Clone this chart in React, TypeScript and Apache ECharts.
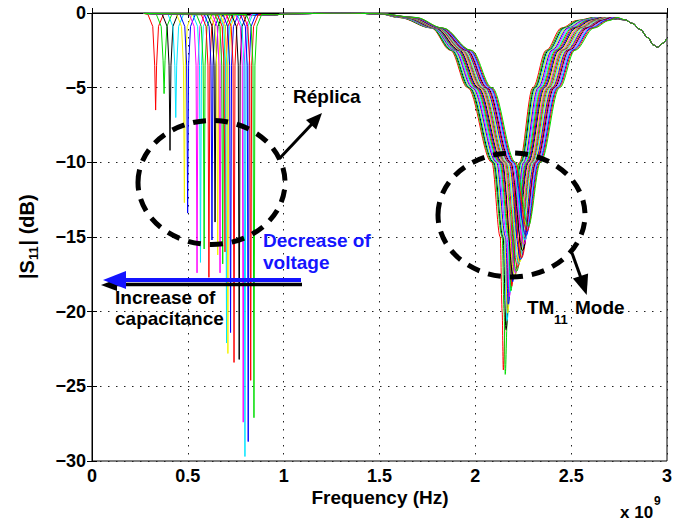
import React, { useEffect, useRef } from 'react';
import * as echarts from 'echarts';

const xTickLabels = ['0', '0.5', '1', '1.5', '2', '2.5', '3'];
const yTickLabels = ['−30', '−25', '−20', '−15', '−10', '−5', '0'];

const curveColors = [
  '#ff0000', '#00dd00', '#000000', '#00e5ff', '#f2f200', '#0000ff', '#ff00ff',
  '#00e5ff', '#00dd00', '#ff0000', '#0000ff', '#000000', '#f2f200', '#ff00ff',
  '#00dd00', '#ff0000', '#00e5ff', '#f2f200', '#0000ff', '#ff0000', '#000000',
  '#ff00ff', '#00e5ff', '#0000ff', '#ff0000', '#00dd00',
];

// Réplica resonances (GHz, dB), one list per curve
const lowDipPoints = [
  [[0.292, -0.1], [0.317, -0.9], [0.327, -3.5], [0.332, -6.5], [0.337, -3.5], [0.347, -0.9], [0.372, -0.1]],
  [[0.336, -0.1], [0.361, -0.9], [0.371, -3.2], [0.376, -5.4], [0.381, -3.2], [0.391, -0.9], [0.416, -0.1]],
  [[0.367, -0.1], [0.392, -0.9], [0.402, -3.5], [0.407, -9.2], [0.412, -3.5], [0.422, -0.9], [0.447, -0.1]],
  [[0.397, -0.1], [0.422, -0.9], [0.432, -3.5], [0.437, -7.0], [0.442, -3.5], [0.452, -0.9], [0.477, -0.1]],
  [[0.442, -0.1], [0.467, -0.9], [0.477, -3.5], [0.482, -12.7], [0.487, -3.5], [0.497, -0.9], [0.522, -0.1]],
  [[0.459, -0.1], [0.484, -0.9], [0.494, -3.5], [0.499, -13.4], [0.504, -3.5], [0.514, -0.9], [0.539, -0.1]],
  [[0.508, -0.1], [0.533, -0.9], [0.543, -3.5], [0.548, -17.4], [0.553, -3.5], [0.563, -0.9], [0.588, -0.1]],
  [[0.526, -0.1], [0.551, -0.9], [0.561, -3.5], [0.566, -16.7], [0.571, -3.5], [0.581, -0.9], [0.606, -0.1]],
  [[0.545, -0.1], [0.570, -0.9], [0.580, -3.5], [0.585, -15.8], [0.590, -3.5], [0.600, -0.9], [0.625, -0.1]],
  [[0.570, -0.1], [0.595, -0.9], [0.605, -3.5], [0.610, -17.7], [0.615, -3.5], [0.625, -0.9], [0.650, -0.1]],
  [[0.586, -0.1], [0.611, -0.9], [0.621, -3.5], [0.626, -15.2], [0.631, -3.5], [0.641, -0.9], [0.666, -0.1]],
  [[0.602, -0.1], [0.627, -0.9], [0.637, -3.5], [0.642, -14.0], [0.647, -3.5], [0.657, -0.9], [0.682, -0.1]],
  [[0.616, -0.1], [0.641, -0.9], [0.651, -3.5], [0.656, -16.2], [0.661, -3.5], [0.671, -0.9], [0.696, -0.1]],
  [[0.628, -0.1], [0.653, -0.9], [0.663, -3.5], [0.668, -17.4], [0.673, -3.5], [0.683, -0.9], [0.708, -0.1]],
  [[0.642, -0.1], [0.667, -0.9], [0.677, -3.5], [0.682, -16.8], [0.687, -3.5], [0.697, -0.9], [0.722, -0.1]],
  [[0.654, -0.1], [0.679, -0.9], [0.689, -3.5], [0.694, -16.0], [0.699, -3.5], [0.709, -0.9], [0.734, -0.1]],
  [[0.662, -0.1], [0.687, -0.9], [0.697, -3.5], [0.702, -22.1], [0.707, -3.5], [0.717, -0.9], [0.742, -0.1]],
  [[0.669, -0.1], [0.694, -0.9], [0.704, -3.5], [0.709, -22.8], [0.714, -3.5], [0.724, -0.9], [0.749, -0.1]],
  [[0.683, -0.1], [0.708, -0.9], [0.718, -3.5], [0.723, -21.4], [0.728, -3.5], [0.738, -0.9], [0.763, -0.1]],
  [[0.701, -0.1], [0.726, -0.9], [0.736, -3.5], [0.741, -23.4], [0.746, -3.5], [0.756, -0.9], [0.781, -0.1]],
  [[0.728, -0.1], [0.753, -0.9], [0.763, -3.5], [0.768, -23.2], [0.773, -3.5], [0.783, -0.9], [0.808, -0.1]],
  [[0.749, -0.1], [0.774, -0.9], [0.784, -3.5], [0.789, -27.4], [0.794, -3.5], [0.804, -0.9], [0.829, -0.1]],
  [[0.758, -0.1], [0.783, -0.9], [0.793, -3.5], [0.798, -29.7], [0.803, -3.5], [0.813, -0.9], [0.838, -0.1]],
  [[0.775, -0.1], [0.800, -0.9], [0.810, -3.5], [0.815, -28.7], [0.820, -3.5], [0.830, -0.9], [0.855, -0.1]],
  [[0.788, -0.1], [0.813, -0.9], [0.823, -3.5], [0.828, -24.6], [0.833, -3.5], [0.843, -0.9], [0.868, -0.1]],
  [[0.805, -0.1], [0.830, -0.9], [0.840, -3.5], [0.845, -27.1], [0.850, -3.5], [0.860, -0.9], [0.885, -0.1]],
];

// flat stretch shared by all curves between the two resonances
const plateauPoints = [[0.95, -0.12], [1.1, -0.04], [1.3, 0], [1.5, -0.05]];

// TM11 mode resonances (GHz, dB), one list per curve
const tmModePoints = [
  [[1.600, -0.3], [1.770, -1], [1.870, -2.5], [1.960, -5], [2.086, -10], [2.130, -15], [2.140, -20], [2.146, -23.9], [2.158, -20], [2.176, -15], [2.230, -10], [2.300, -5], [2.370, -2.5], [2.450, -1], [2.530, -0.5], [2.620, -0.3]],
  [[1.604, -0.3], [1.772, -1], [1.874, -2.5], [1.965, -5], [2.091, -10], [2.140, -15], [2.150, -20], [2.156, -24.2], [2.168, -20], [2.186, -15], [2.234, -10], [2.306, -5], [2.376, -2.5], [2.457, -1], [2.537, -0.5], [2.625, -0.3]],
  [[1.607, -0.3], [1.775, -1], [1.879, -2.5], [1.970, -5], [2.096, -10], [2.145, -15], [2.160, -21.2], [2.190, -15], [2.239, -10], [2.311, -5], [2.382, -2.5], [2.464, -1], [2.544, -0.5], [2.630, -0.3]],
  [[1.611, -0.3], [1.777, -1], [1.883, -2.5], [1.975, -5], [2.101, -10], [2.150, -15], [2.165, -20.6], [2.195, -15], [2.243, -10], [2.317, -5], [2.388, -2.5], [2.470, -1], [2.550, -0.5], [2.634, -0.3]],
  [[1.614, -0.3], [1.780, -1], [1.888, -2.5], [1.980, -5], [2.106, -10], [2.153, -15], [2.168, -20.1], [2.198, -15], [2.248, -10], [2.322, -5], [2.394, -2.5], [2.477, -1], [2.557, -0.5], [2.639, -0.3]],
  [[1.618, -0.3], [1.782, -1], [1.892, -2.5], [1.985, -5], [2.111, -10], [2.158, -15], [2.172, -19.5], [2.200, -15], [2.252, -10], [2.328, -5], [2.400, -2.5], [2.484, -1], [2.564, -0.5], [2.644, -0.3]],
  [[1.622, -0.3], [1.784, -1], [1.896, -2.5], [1.990, -5], [2.116, -10], [2.166, -15], [2.177, -19.0], [2.202, -15], [2.256, -10], [2.334, -5], [2.406, -2.5], [2.491, -1], [2.571, -0.5], [2.649, -0.3]],
  [[1.625, -0.3], [1.787, -1], [1.901, -2.5], [1.996, -5], [2.121, -10], [2.171, -15], [2.181, -18.7], [2.204, -15], [2.261, -10], [2.339, -5], [2.412, -2.5], [2.498, -1], [2.578, -0.5], [2.654, -0.3]],
  [[1.629, -0.3], [1.789, -1], [1.905, -2.5], [2.001, -5], [2.126, -10], [2.176, -15], [2.186, -18.6], [2.207, -15], [2.265, -10], [2.345, -5], [2.418, -2.5], [2.504, -1], [2.584, -0.5], [2.658, -0.3]],
  [[1.632, -0.3], [1.792, -1], [1.910, -2.5], [2.006, -5], [2.131, -10], [2.181, -15], [2.190, -18.3], [2.210, -15], [2.270, -10], [2.350, -5], [2.424, -2.5], [2.511, -1], [2.591, -0.5], [2.663, -0.3]],
  [[1.636, -0.3], [1.794, -1], [1.914, -2.5], [2.011, -5], [2.136, -10], [2.187, -15], [2.195, -18.0], [2.213, -15], [2.274, -10], [2.356, -5], [2.430, -2.5], [2.518, -1], [2.598, -0.5], [2.668, -0.3]],
  [[1.640, -0.3], [1.796, -1], [1.918, -2.5], [2.016, -5], [2.141, -10], [2.200, -17.8], [2.278, -10], [2.362, -5], [2.436, -2.5], [2.525, -1], [2.605, -0.5], [2.673, -0.3]],
  [[1.643, -0.3], [1.799, -1], [1.923, -2.5], [2.021, -5], [2.146, -10], [2.205, -17.6], [2.283, -10], [2.367, -5], [2.442, -2.5], [2.532, -1], [2.612, -0.5], [2.678, -0.3]],
  [[1.647, -0.3], [1.801, -1], [1.927, -2.5], [2.026, -5], [2.150, -10], [2.210, -17.4], [2.287, -10], [2.373, -5], [2.448, -2.5], [2.538, -1], [2.618, -0.5], [2.682, -0.3]],
  [[1.650, -0.3], [1.804, -1], [1.932, -2.5], [2.031, -5], [2.155, -10], [2.215, -17.3], [2.292, -10], [2.378, -5], [2.454, -2.5], [2.545, -1], [2.625, -0.5], [2.687, -0.3]],
  [[1.654, -0.3], [1.806, -1], [1.936, -2.5], [2.036, -5], [2.160, -10], [2.220, -17.0], [2.296, -10], [2.384, -5], [2.460, -2.5], [2.552, -1], [2.632, -0.5], [2.692, -0.3]],
  [[1.658, -0.3], [1.808, -1], [1.940, -2.5], [2.041, -5], [2.165, -10], [2.225, -16.8], [2.300, -10], [2.390, -5], [2.466, -2.5], [2.559, -1], [2.639, -0.5], [2.697, -0.3]],
  [[1.661, -0.3], [1.811, -1], [1.945, -2.5], [2.046, -5], [2.170, -10], [2.230, -16.7], [2.305, -10], [2.395, -5], [2.472, -2.5], [2.566, -1], [2.646, -0.5], [2.702, -0.3]],
  [[1.665, -0.3], [1.813, -1], [1.949, -2.5], [2.051, -5], [2.175, -10], [2.236, -16.5], [2.309, -10], [2.401, -5], [2.478, -2.5], [2.572, -1], [2.652, -0.5], [2.706, -0.3]],
  [[1.668, -0.3], [1.816, -1], [1.954, -2.5], [2.057, -5], [2.180, -10], [2.241, -16.4], [2.314, -10], [2.406, -5], [2.484, -2.5], [2.579, -1], [2.659, -0.5], [2.711, -0.3]],
  [[1.672, -0.3], [1.818, -1], [1.958, -2.5], [2.062, -5], [2.185, -10], [2.246, -15.9], [2.318, -10], [2.412, -5], [2.490, -2.5], [2.586, -1], [2.666, -0.5], [2.716, -0.3]],
  [[1.676, -0.3], [1.820, -1], [1.962, -2.5], [2.067, -5], [2.190, -10], [2.252, -15.5], [2.322, -10], [2.418, -5], [2.496, -2.5], [2.593, -1], [2.673, -0.5], [2.721, -0.3]],
  [[1.679, -0.3], [1.823, -1], [1.967, -2.5], [2.072, -5], [2.195, -10], [2.258, -15.2], [2.327, -10], [2.423, -5], [2.502, -2.5], [2.600, -1], [2.680, -0.5], [2.726, -0.3]],
  [[1.683, -0.3], [1.825, -1], [1.971, -2.5], [2.077, -5], [2.200, -10], [2.264, -14.9], [2.331, -10], [2.429, -5], [2.508, -2.5], [2.606, -1], [2.686, -0.5], [2.730, -0.3]],
  [[1.686, -0.3], [1.828, -1], [1.976, -2.5], [2.082, -5], [2.205, -10], [2.270, -14.6], [2.336, -10], [2.434, -5], [2.514, -2.5], [2.613, -1], [2.693, -0.5], [2.735, -0.3]],
  [[1.690, -0.3], [1.830, -1], [1.980, -2.5], [2.087, -5], [2.210, -10], [2.276, -14.3], [2.340, -10], [2.440, -5], [2.520, -2.5], [2.620, -1], [2.700, -0.5], [2.740, -0.3]],
];

// shared high-frequency tail (all curves overlap here)
const tailPoints = [[2.78, -0.45], [2.82, -0.7], [2.86, -1.1], [2.9, -1.65], [2.93, -2.15], [2.95, -2.3], [2.975, -2.05], [3.0, -1.7]];

const FONT = '"Liberation Sans", Arial, sans-serif';
const BLUE = '#1414ff';

function txt(text: string, x: number, y: number, size: number, color = '#000', align = 'left') {
  return {
    type: 'text', x, y, z: 100,
    style: {
      text, fill: color, font: `bold ${size}px ${FONT}`,
      textAlign: align, textVerticalAlign: 'middle', align, verticalAlign: 'middle',
    },
  };
}

export default function App() {
  const ref = useRef<HTMLDivElement>(null);
  useEffect(() => {
    document.body.style.margin = '0';
    const chart = echarts.init(ref.current as HTMLDivElement, null, { renderer: 'svg' });
    const series: any[] = [];
    curveColors.forEach((c, k) => {
      series.push({
        type: 'line', data: [[0.27, -0.03], ...lowDipPoints[k], [0.95, -0.12]],
        symbol: 'none', silent: true, lineStyle: { width: 1, color: c }, itemStyle: { color: c },
      });
      series.push({
        type: 'line', data: [...plateauPoints, ...tmModePoints[k], ...tailPoints],
        smooth: 0.35, smoothMonotone: 'x',
        symbol: 'none', silent: true, lineStyle: { width: 1, color: c }, itemStyle: { color: c },
      });
    });
    const axisCommon = {
      axisLine: { show: true, lineStyle: { color: '#000', width: 1 } },
      axisTick: { show: true, inside: true, length: 5, lineStyle: { color: '#000' } },
    };
    const labelStyle = { color: '#000', fontWeight: 'bold', fontSize: 18, fontFamily: FONT };
    const subStyle = { fill: '#000', textAlign: 'left', align: 'left', textVerticalAlign: 'middle', verticalAlign: 'middle' };
    const option: any = {
      animation: false,
      backgroundColor: '#fff',
      grid: { left: 92, right: 19, top: 13, bottom: 61, show: true, borderColor: '#000', borderWidth: 1 },
      xAxis: [
        {
          type: 'value', min: 0, max: 3, interval: 0.5, position: 'bottom', ...axisCommon,
          axisLabel: { ...labelStyle, margin: 6, formatter: (v: number) => xTickLabels[Math.round(v / 0.5)] },
          splitLine: { show: true, lineStyle: { color: '#222', width: 1, type: [1.5, 6.5] } },
        },
        {
          type: 'value', min: 0, max: 3, interval: 0.5, position: 'top', ...axisCommon,
          axisLabel: { show: false }, splitLine: { show: false },
        },
      ],
      yAxis: [
        {
          type: 'value', min: -30, max: 0, interval: 5, position: 'left', ...axisCommon,
          axisLabel: { ...labelStyle, margin: 6, formatter: (v: number) => yTickLabels[Math.round((v + 30) / 5)] },
          splitLine: { show: true, lineStyle: { color: '#222', width: 1, type: [1.5, 6.5] } },
        },
        {
          type: 'value', min: -30, max: 0, interval: 5, position: 'right', ...axisCommon,
          axisLabel: { show: false }, splitLine: { show: false },
        },
      ],
      series,
      graphic: [
        // dashed ellipses
        { type: 'ellipse', z: 100, shape: { cx: 211.5, cy: 182.5, rx: 73.5, ry: 62 }, style: { fill: 'none', stroke: '#000', lineWidth: 5, lineDash: [13, 9] } },
        { type: 'ellipse', z: 100, shape: { cx: 511.5, cy: 215, rx: 73.5, ry: 62 }, style: { fill: 'none', stroke: '#000', lineWidth: 5, lineDash: [13, 9] } },
        // Réplica arrow
        { type: 'line', z: 100, shape: { x1: 279, y1: 159, x2: 312, y2: 124 }, style: { stroke: '#000', lineWidth: 3 } },
        { type: 'polygon', z: 100, shape: { points: [[322, 113], [316.2, 129.5], [306, 119.9]] }, style: { fill: '#000' } },
        // TM arrow
        { type: 'line', z: 100, shape: { x1: 572, y1: 253, x2: 581, y2: 278 }, style: { stroke: '#000', lineWidth: 3 } },
        { type: 'polygon', z: 100, shape: { points: [[586.7, 295], [588.1, 273.5], [572.9, 278.5]] }, style: { fill: '#000' } },
        // capacitance / voltage arrows
        txt('Increase of', 115, 297, 19),
        txt('capacitance', 115, 318, 19),
        { type: 'line', z: 101, shape: { x1: 112, y1: 284.5, x2: 302, y2: 284.5 }, style: { stroke: '#000', lineWidth: 3.5 } },
        { type: 'polygon', z: 101, shape: { points: [[101, 285], [117, 279], [117, 291]] }, style: { fill: '#000' } },
        { type: 'line', z: 102, shape: { x1: 122, y1: 280, x2: 301, y2: 280 }, style: { stroke: BLUE, lineWidth: 4 } },
        { type: 'polygon', z: 102, shape: { points: [[103, 280], [126, 271], [126, 289]] }, style: { fill: BLUE } },
        txt('Réplica', 293, 96, 19),
        txt('Decrease of', 263, 240, 19, BLUE),
        txt('voltage', 263, 262, 19, BLUE),
        txt('TM', 527, 307, 19),
        txt('11', 554, 319, 13),
        txt('Mode', 575, 307, 19),
        // axis titles
        txt('Frequency (Hz)', 380, 497, 19, '#000', 'center'),
        txt('x 10', 620, 512, 17),
        txt('9', 654, 501, 12),
        {
          type: 'group', x: 27, y: 237, rotation: Math.PI / 2, z: 100,
          children: [
            { type: 'text', x: -42, y: 0, style: { ...subStyle, text: '|S', font: `bold 20px ${FONT}` } },
            { type: 'text', x: -23, y: 6, style: { ...subStyle, text: '11', font: `bold 13px ${FONT}` } },
            { type: 'text', x: -8.5, y: 0, style: { ...subStyle, text: '| (dB)', font: `bold 20px ${FONT}` } },
          ],
        },
      ],
    };
    chart.setOption(option);
    return () => chart.dispose();
  }, []);
  return <div ref={ref} style={{ position: 'fixed', left: 0, top: 0, width: 686, height: 522, background: '#fff' }} />;
}
